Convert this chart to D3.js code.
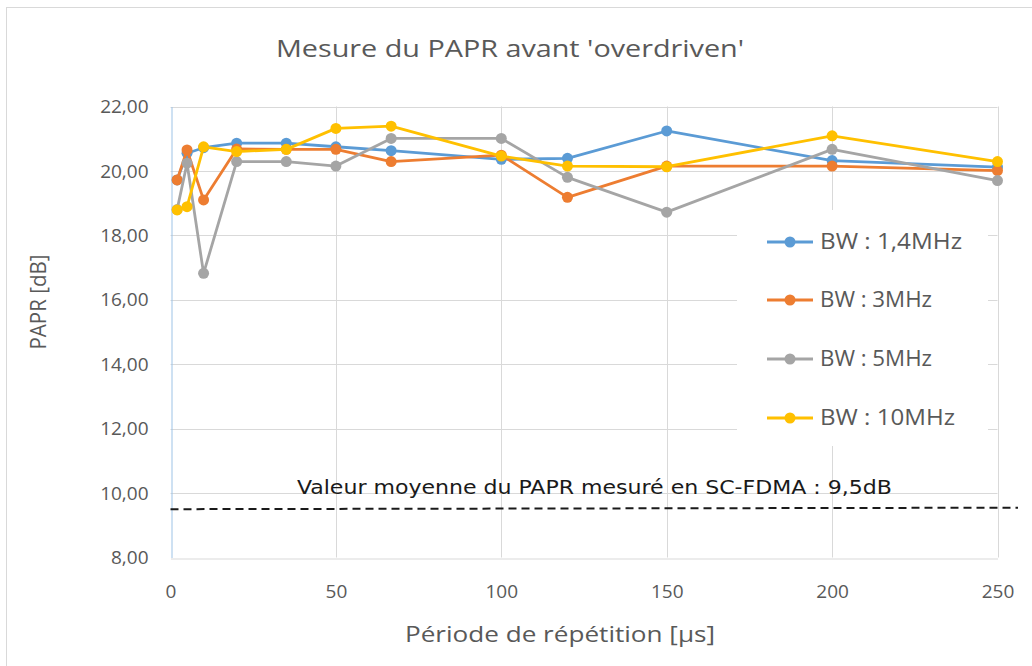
<!DOCTYPE html>
<html>
<head>
<meta charset="utf-8">
<script src="https://cdn.jsdelivr.net/npm/d3@7/dist/d3.min.js"></script>
<style>
  html, body { margin: 0; padding: 0; background: #fff; }
  svg { display: block; }
  text { font-family: "Open Sans", sans-serif; fill: #595959; }
</style>
</head>
<body>
<svg id="chart" width="1032" height="666"></svg>
<script>
// Repetition periods (µs)
const periods = [2, 5, 10, 20, 35, 50, 66.7, 100, 120, 150, 200, 250];

// PAPR (dB) measured for each bandwidth
const bw14 = [19.72, 20.55, 20.72, 20.86, 20.86, 20.75, 20.63, 20.36, 20.39, 21.24, 20.32, 20.12];
const bw3  = [19.72, 20.65, 19.10, 20.68, 20.67, 20.67, 20.29, 20.49, 19.18, 20.15, 20.15, 20.01];
const bw5  = [18.80, 20.24, 16.82, 20.29, 20.29, 20.15, 21.01, 21.01, 19.80, 18.72, 20.67, 19.70];
const bw10 = [18.79, 18.89, 20.75, 20.60, 20.67, 21.32, 21.39, 20.46, 20.15, 20.13, 21.09, 20.29];

const seriesNames = ["BW : 1,4MHz", "BW : 3MHz", "BW : 5MHz", "BW : 10MHz"];
const seriesColors = ["#5B9BD5", "#ED7D31", "#A5A5A5", "#FFC000"];

const xTicks = [0, 50, 100, 150, 200, 250];
const yTicks = [8, 10, 12, 14, 16, 18, 20, 22];

// Average PAPR for SC-FDMA (dB)
const scfdmaMean = 9.5;
const scfdmaLabel = "Valeur moyenne du PAPR mesuré en SC-FDMA : 9,5dB";

const titleText = "Mesure du PAPR avant 'overdriven'";
const xTitle = "Période de répétition [µs]";
const yTitle = "PAPR [dB]";

const seriesData = [bw14, bw3, bw5, bw10];

const svg = d3.select("#chart");

// outer chart frame
svg.append("rect")
  .attr("x", 6.5).attr("y", 7.5).attr("width", 1040).attr("height", 680)
  .attr("fill", "#fff").attr("stroke", "#d9d9d9").attr("stroke-width", 1);

const x = d3.scaleLinear().domain([0, 250]).range([170.5, 997.5]);
const y = d3.scaleLinear().domain([8, 22]).range([557.5, 106.5]);

// gridlines
const grid = svg.append("g");
grid.selectAll("line.h").data(yTicks.filter(v => v > 8)).join("line")
  .attr("x1", x(0)).attr("x2", x(250))
  .attr("y1", d => Math.round(y(d)) + 0.5).attr("y2", d => Math.round(y(d)) + 0.5)
  .attr("stroke", "#d9d9d9").attr("stroke-width", 1);
grid.selectAll("line.v").data(xTicks.filter(v => v > 0)).join("line")
  .attr("x1", d => Math.round(x(d)) + 0.5).attr("x2", d => Math.round(x(d)) + 0.5)
  .attr("y1", y(22)).attr("y2", y(8))
  .attr("stroke", "#d9d9d9").attr("stroke-width", 1);

// axes
const xAxis = d3.axisBottom(x).tickValues(xTicks).tickSize(0).tickPadding(26)
  .tickFormat(d3.format("d"));
const gx = svg.append("g").attr("transform", `translate(0,${Math.round(y(8)) + 0.5})`).call(xAxis);
gx.select(".domain").attr("stroke", "#d9d9d9");
gx.selectAll("text").attr("fill", "#595959")
  .style("font-family", "'Open Sans', sans-serif").style("font-size", "19px");

const yFmt = v => v.toFixed(2).replace(".", ",");
const yAxis = d3.axisLeft(y).tickValues(yTicks).tickSize(0).tickPadding(23).tickFormat(yFmt);
const gy = svg.append("g").attr("transform", `translate(${Math.round(x(0)) + 0.5},0)`).call(yAxis);
gy.select(".domain").attr("stroke", "#9dc3e6");
gy.selectAll("text").attr("fill", "#595959")
  .style("font-family", "'Open Sans', sans-serif").style("font-size", "19px");

// reference line: SC-FDMA mean
svg.append("line")
  .attr("x1", x(0)).attr("x2", 1018)
  .attr("y1", y(scfdmaMean)).attr("y2", y(scfdmaMean) - 1.5)
  .attr("stroke", "#1a1a1a").attr("stroke-width", 2)
  .attr("stroke-dasharray", "8,5");
svg.append("text")
  .attr("x", 297).attr("y", 494)
  .attr("textLength", 595).attr("lengthAdjust", "spacingAndGlyphs")
  .style("font-family", "'DejaVu Sans Condensed', 'Liberation Sans Narrow', sans-serif")
  .style("font-size", "20px").style("fill", "#1a1a1a")
  .text(scfdmaLabel);

// series lines and markers
const line = d3.line().x((d, i) => x(periods[i])).y(d => y(d));
seriesData.forEach((vals, s) => {
  const g = svg.append("g");
  g.append("path").datum(vals)
    .attr("d", line).attr("fill", "none")
    .attr("stroke", seriesColors[s]).attr("stroke-width", 2.8)
    .attr("stroke-linejoin", "round").attr("stroke-linecap", "round");
  g.selectAll("circle").data(vals).join("circle")
    .attr("cx", (d, i) => x(periods[i])).attr("cy", d => y(d))
    .attr("r", 5.5).attr("fill", seriesColors[s]);
});

// legend
const legend = svg.append("g");
legend.append("rect").attr("x", 737).attr("y", 210).attr("width", 251).attr("height", 236)
  .attr("fill", "#fff");
const legY = [242, 300, 359, 418];
const legW = [142, 112, 112, 135];
seriesNames.forEach((name, s) => {
  const gy0 = legY[s];
  legend.append("line").attr("x1", 767).attr("x2", 813).attr("y1", gy0).attr("y2", gy0)
    .attr("stroke", seriesColors[s]).attr("stroke-width", 2.8);
  legend.append("circle").attr("cx", 790).attr("cy", gy0).attr("r", 5.5).attr("fill", seriesColors[s]);
  legend.append("text").attr("x", 820).attr("y", gy0 + 7)
    .style("font-size", "21px")
    .attr("textLength", legW[s]).attr("lengthAdjust", "spacingAndGlyphs")
    .text(name);
});

// titles
svg.append("text").attr("x", 510).attr("y", 57).attr("text-anchor", "middle")
  .style("font-size", "24px")
  .attr("textLength", 468).attr("lengthAdjust", "spacingAndGlyphs")
  .text(titleText);
svg.append("text").attr("x", 560).attr("y", 642).attr("text-anchor", "middle")
  .style("font-size", "22px")
  .attr("textLength", 310).attr("lengthAdjust", "spacingAndGlyphs")
  .text(xTitle);
svg.append("text").attr("transform", "translate(46,302) rotate(-90)").attr("text-anchor", "middle")
  .style("font-size", "22px")
  .attr("textLength", 95).attr("lengthAdjust", "spacingAndGlyphs")
  .text(yTitle);
</script>
</body>
</html>
